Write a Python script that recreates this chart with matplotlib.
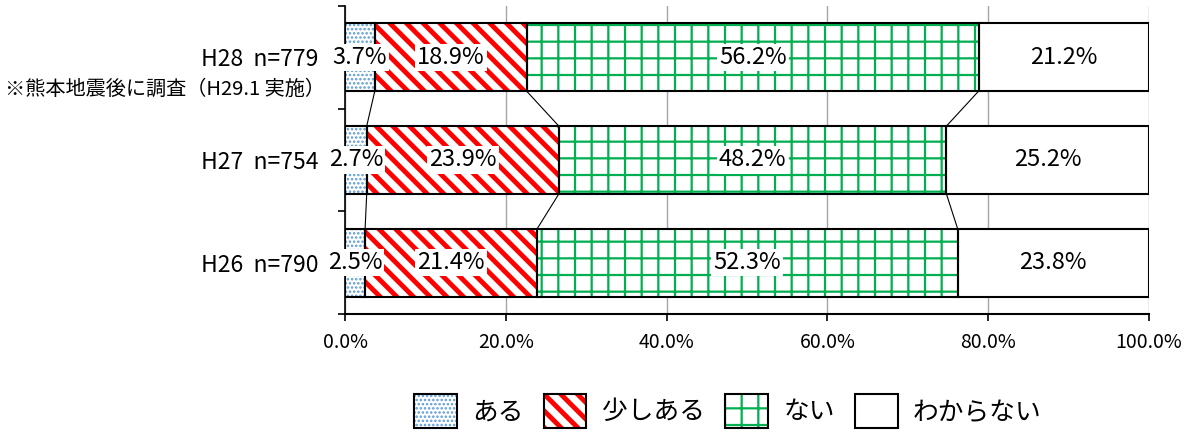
import numpy as np
import matplotlib
matplotlib.use('Agg')
import matplotlib.pyplot as plt
from matplotlib.patches import Patch, Rectangle

plt.rcParams['font.family'] = ['Noto Sans CJK JP', 'DejaVu Sans']

# data (H26 at bottom, H28 at top)
years = ['H26  n=790', 'H27  n=754', 'H28  n=779']
aru = [2.5, 2.7, 3.7]
sukoshi = [21.4, 23.9, 18.9]
nai = [52.3, 48.2, 56.2]
wakaranai = [23.8, 25.2, 21.2]
series_names = ['ある', '少しある', 'ない', 'わからない']
note = '※熊本地震後に調査（H29.1 実施）'
xticks = [0, 20, 40, 60, 80, 100]

series = [aru, sukoshi, nai, wakaranai]
hatch_colors = ['#5B9BD5', '#FF0000', '#00B050', 'white']
hatches = ['....', '\\\\', '+', None]
hatch_lws = [1.2, 3.5, 1.6, 1.0]


class BoxHandler:
    # hatched square with black outline for the legend
    def legend_artist(self, legend, orig_handle, fontsize, handlebox):
        x0, y0 = -handlebox.xdescent, -handlebox.ydescent
        w, hh = handlebox.width, handlebox.height
        tr = handlebox.get_transform()
        p1 = Rectangle((x0, y0), w, hh, facecolor='white',
                       edgecolor=orig_handle.get_edgecolor(), linewidth=0,
                       hatch=orig_handle.get_hatch(), transform=tr)
        if hasattr(p1, 'set_hatch_linewidth'):
            p1.set_hatch_linewidth(orig_handle.get_hatch_linewidth())
        p2 = Rectangle((x0, y0), w, hh, fill=False, edgecolor='black',
                       linewidth=1.5, transform=tr)
        handlebox.add_artist(p1)
        handlebox.add_artist(p2)
        return p2


fig = plt.figure(figsize=(11.89, 4.34), dpi=100)
ax = fig.add_axes([345 / 1189, 1 - 314 / 434, 804 / 1189, 308 / 434])

y = np.arange(len(years))
h = 0.66
left = np.zeros(len(years))
bounds = []
for vals, hc, ht, hlw in zip(series, hatch_colors, hatches, hatch_lws):
    vals = np.array(vals)
    bars = ax.barh(y, vals, height=h, left=left, color='white', edgecolor=hc,
                   linewidth=0, hatch=ht, zorder=2)
    for b in bars:
        if hasattr(b, 'set_hatch_linewidth'):
            b.set_hatch_linewidth(hlw)
    ax.barh(y, vals, height=h, left=left, fill=False, edgecolor='black',
            linewidth=1.5, zorder=3)
    for yi, l, v in zip(y, left, vals):
        ax.text(l + v / 2, yi, '{:.1f}%'.format(v), ha='center', va='center',
                fontsize=17, zorder=5,
                bbox=dict(facecolor='white', edgecolor='none', pad=1.5))
    left = left + vals
    bounds.append(left.copy())

# connector lines between bars
for b in bounds[:-1]:
    for i in range(len(years) - 1):
        ax.plot([b[i + 1], b[i]], [y[i + 1] - h / 2, y[i] + h / 2],
                color='black', linewidth=0.8, zorder=1)

ax.set_xlim(0, 100)
ax.set_ylim(-0.5, 2.5)
ax.set_xticks(xticks)
ax.set_xticklabels(['{:.1f}%'.format(v) for v in xticks])
ax.tick_params(axis='x', length=5, width=1.2, labelsize=14, pad=8)
ax.grid(axis='x', color='#A6A6A6', linewidth=1, zorder=0)
ax.set_axisbelow(True)

ax.set_yticks([-0.5, 0.5, 1.5, 2.5])
ax.set_yticklabels([])
ax.tick_params(axis='y', which='major', length=5, width=1.2)
ax.set_yticks(y, minor=True)
ax.set_yticklabels(years, minor=True)
ax.tick_params(axis='y', which='minor', length=0, labelsize=16.5, pad=19)

for s in ['top', 'right']:
    ax.spines[s].set_visible(False)
ax.spines['left'].set_linewidth(1.2)
ax.spines['bottom'].set_linewidth(1.5)

ax.text(-0.025, 1.69, note, transform=ax.get_yaxis_transform(), ha='right',
        va='center', fontsize=14.5)

handles = []
for hc, ht, hlw in zip(hatch_colors, hatches, hatch_lws):
    p = Patch(facecolor='white', edgecolor=hc, linewidth=0, hatch=ht)
    if hasattr(p, 'set_hatch_linewidth'):
        p.set_hatch_linewidth(hlw)
    handles.append(p)
fig.legend(handles, series_names, handler_map={Patch: BoxHandler()},
           loc='center', bbox_to_anchor=(728 / 1189, 1 - 411 / 434), ncol=4,
           frameon=False, fontsize=18.5, handlelength=1.65, handleheight=1.65,
           handletextpad=0.6, columnspacing=0.8)

fig.savefig('out.png', dpi=100)
